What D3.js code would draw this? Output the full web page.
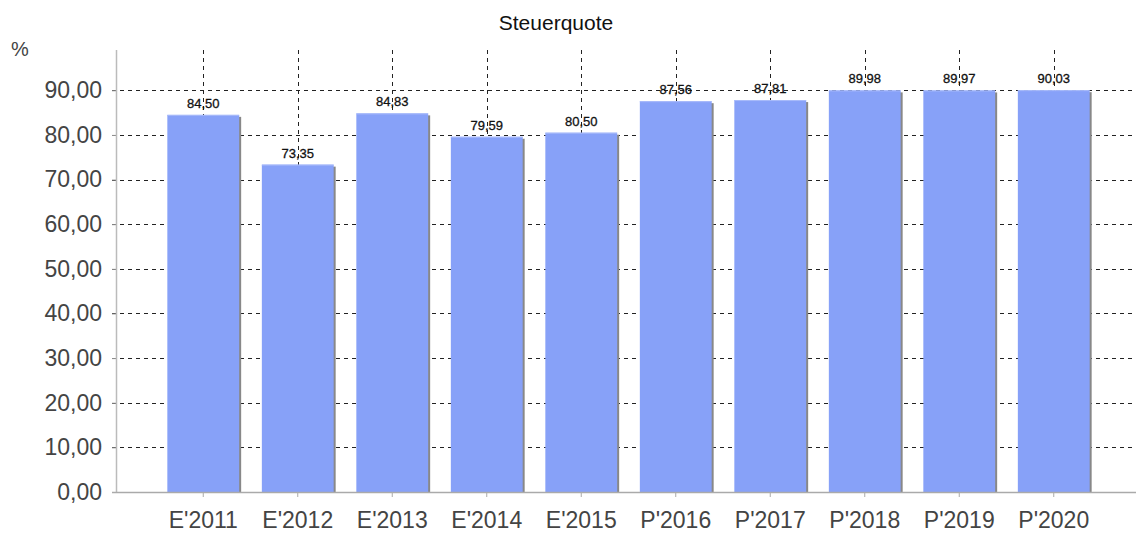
<!DOCTYPE html>
<html>
  <head>
    <meta charset="utf-8">
    <title>Steuerquote</title>
    <script src="https://d3js.org/d3.v7.min.js"></script>
    <style>
      body { margin: 0; background: #fff; font-family: "Liberation Sans", Arial, sans-serif; }
    </style>
  </head>
  <body>
    <svg></svg>
    <script>
      // data
      var categories = ["E'2011", "E'2012", "E'2013", "E'2014", "E'2015", "P'2016", "P'2017", "P'2018", "P'2019", "P'2020"];
      var values = [84.50, 73.35, 84.83, 79.59, 80.50, 87.56, 87.81, 89.98, 89.97, 90.03];
      var yTicks = [0, 10, 20, 30, 40, 50, 60, 70, 80, 90];

      var width = 1136, height = 538;
      var axisX = 116, plotTop = 50, base = 492;

      var svg = d3.select("svg").attr("width", width).attr("height", height);

      var x = d3.scaleBand().domain(categories).range([156, 1101]).paddingInner(0.24).paddingOuter(0.12);
      var y = d3.scaleLinear().domain([0, 90]).range([base, 90.3]);

      var fmt = function(v) { return d3.format(".2f")(v).replace(".", ","); };

      // title and unit
      svg.append("text").attr("x", 556).attr("y", 30).attr("text-anchor", "middle")
        .style("font-size", "21px").style("fill", "#111").text("Steuerquote");
      svg.append("text").attr("x", 11).attr("y", 56)
        .style("font-size", "20px").style("fill", "#444").text("%");

      // horizontal grid
      svg.append("g").selectAll("line").data(yTicks.filter(function(d) { return d > 0; }))
        .enter().append("line")
          .attr("x1", 112).attr("x2", width)
          .attr("y1", function(d) { return Math.round(y(d)) + 0.5; })
          .attr("y2", function(d) { return Math.round(y(d)) + 0.5; })
          .attr("stroke", "#222").attr("stroke-dasharray", "4,4");

      // vertical grid at category centres
      svg.append("g").selectAll("line").data(categories)
        .enter().append("line")
          .attr("x1", function(d) { return Math.round(x(d) + x.bandwidth() / 2) + 0.5; })
          .attr("x2", function(d) { return Math.round(x(d) + x.bandwidth() / 2) + 0.5; })
          .attr("y1", plotTop).attr("y2", base)
          .attr("stroke", "#222").attr("stroke-dasharray", "4,4");

      // bars with a small shadow
      var bars = svg.append("g").selectAll("g").data(values).enter().append("g");
      bars.append("rect")
        .attr("x", function(d, i) { return x(categories[i]) + 2; })
        .attr("y", function(d) { return y(d) + 2; })
        .attr("width", x.bandwidth())
        .attr("height", function(d) { return base - y(d) - 2; })
        .style("fill", "#888");
      bars.append("rect")
        .attr("x", function(d, i) { return x(categories[i]); })
        .attr("y", function(d) { return y(d); })
        .attr("width", x.bandwidth())
        .attr("height", function(d) { return base - y(d); })
        .style("fill", "#87a1f8");
      bars.append("line")
        .attr("x1", function(d, i) { return x(categories[i]); })
        .attr("x2", function(d, i) { return x(categories[i]) + x.bandwidth(); })
        .attr("y1", function(d) { return y(d) + 0.5; })
        .attr("y2", function(d) { return y(d) + 0.5; })
        .attr("stroke", "#a9bbfa");

      // value labels
      svg.append("g").selectAll("text").data(values).enter().append("text")
        .attr("x", function(d, i) { return x(categories[i]) + x.bandwidth() / 2; })
        .attr("y", function(d) { return y(d) - 7; })
        .attr("text-anchor", "middle")
        .style("font-size", "13px").style("fill", "#111")
        .style("stroke", "#111").style("stroke-width", 0.3)
        .text(fmt);

      // y axis
      var yAxis = svg.append("g").attr("transform", "translate(" + axisX + ",0)")
        .call(d3.axisLeft(y).tickValues(yTicks).tickFormat(fmt).tickSize(4).tickPadding(10));
      yAxis.select(".domain").remove();
      yAxis.selectAll(".tick line").attr("stroke", "#999");
      yAxis.selectAll(".tick text").style("font-size", "23px").style("fill", "#444")
        .style("font-family", "'Liberation Sans', Arial, sans-serif");
      svg.append("line").attr("x1", axisX + 0.5).attr("x2", axisX + 0.5)
        .attr("y1", plotTop).attr("y2", base).attr("stroke", "#bbb").attr("stroke-width", 1.5);

      // x axis
      var xAxis = svg.append("g").attr("transform", "translate(0," + base + ")")
        .call(d3.axisBottom(x).tickSize(5).tickPadding(15));
      xAxis.select(".domain").remove();
      xAxis.selectAll(".tick line").attr("stroke", "#aaa");
      xAxis.selectAll(".tick text").style("font-size", "23px").style("fill", "#444")
        .style("font-family", "'Liberation Sans', Arial, sans-serif");
      svg.append("line").attr("x1", 112).attr("x2", width)
        .attr("y1", base + 0.5).attr("y2", base + 0.5).attr("stroke", "#aaa").attr("stroke-width", 1.5);
    </script>
  </body>
</html>
